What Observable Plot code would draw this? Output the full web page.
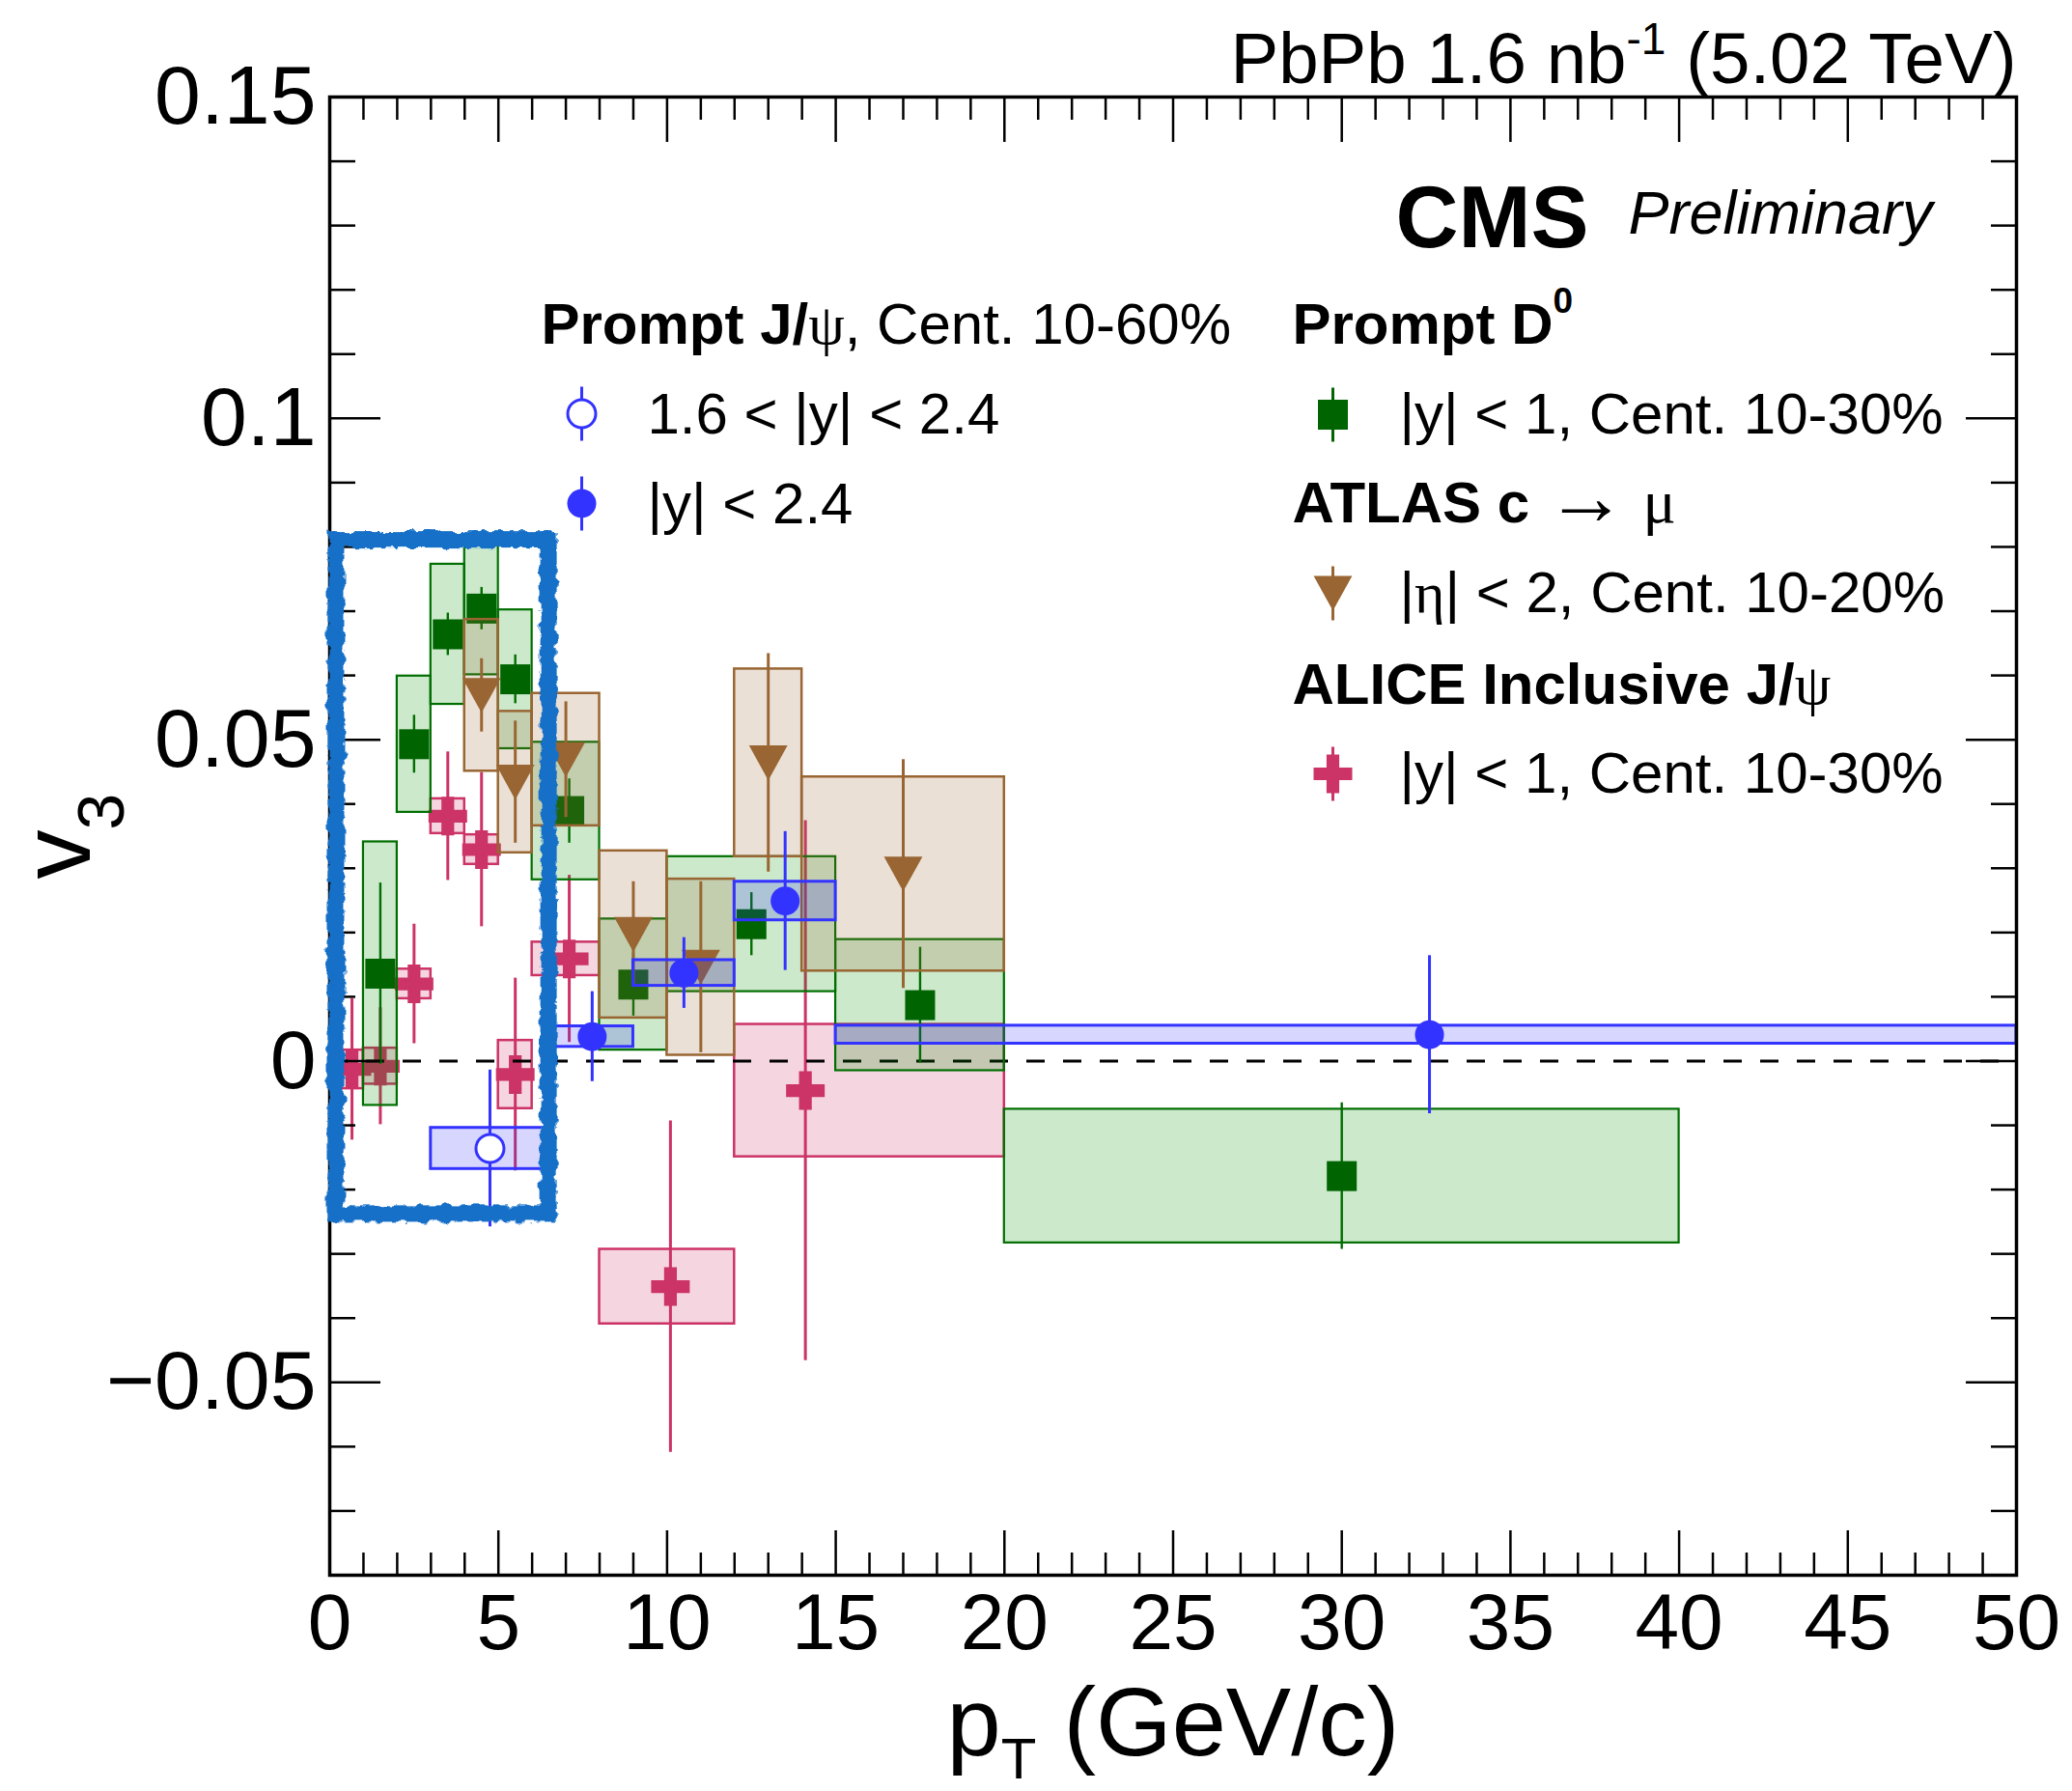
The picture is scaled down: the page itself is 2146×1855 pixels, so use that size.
<!DOCTYPE html>
<html>
<head>
<meta charset="utf-8">
<script src="https://cdn.jsdelivr.net/npm/d3@7"></script>
<script src="https://cdn.jsdelivr.net/npm/@observablehq/plot@0.6"></script>
<style>
html, body { margin: 0; padding: 0; background: #ffffff; }
#chart svg { display: block; }
</style>
</head>
<body>
<div id="chart"></div>
<script>
// ---------------- data ----------------
// CMS prompt D0, |y| < 1, Cent. 10-30%
const d0Lo   = [1, 2, 3, 4, 5, 6, 8, 10, 15, 20];
const d0Hi   = [2, 3, 4, 5, 6, 8, 10, 15, 20, 40];
const d0Pt   = [1.5, 2.5, 3.5, 4.5, 5.5, 7.1, 9.0, 12.5, 17.5, 30.0];
const d0V3   = [0.0136, 0.0493, 0.0664, 0.0704, 0.0594, 0.0389, 0.0119, 0.0213, 0.0087, -0.0179];
const d0Stat = [0.0141, 0.0045, 0.0033, 0.0033, 0.0038, 0.0050, 0.0049, 0.0049, 0.0090, 0.0114];
const d0Sys  = [0.0205, 0.0106, 0.0109, 0.0103, 0.0108, 0.0107, 0.0102, 0.0105, 0.0102, 0.0104];

// ATLAS c -> mu, |eta| < 2, Cent. 10-20%
const atlasLo   = [4, 5, 6, 8, 10, 12, 14];
const atlasHi   = [5, 6, 8, 10, 12, 14, 20];
const atlasPt   = [4.5, 5.5, 7.0, 9.0, 11.0, 13.0, 17.0];
const atlasV3   = [0.0569, 0.0434, 0.0469, 0.0197, 0.0146, 0.0464, 0.0291];
const atlasStat = [0.0057, 0.0095, 0.0090, 0.0082, 0.0133, 0.0170, 0.0178];
const atlasSys  = [0.0118, 0.0110, 0.0103, 0.0130, 0.0137, 0.0146, 0.0151];

// ALICE inclusive J/psi, |y| < 1, Cent. 10-30%
const aliceLo   = [0, 1, 2, 3, 4, 5, 6, 8, 12];
const aliceHi   = [1, 2, 3, 4, 5, 6, 8, 12, 20];
const alicePt   = [0.66, 1.5, 2.5, 3.5, 4.5, 5.5, 7.1, 10.1, 14.1];
const aliceV3   = [-0.0013, -0.0008, 0.0120, 0.0381, 0.0329, -0.0021, 0.0159, -0.0351, -0.0046];
const aliceStat = [0.0110, 0.0091, 0.0093, 0.0100, 0.0120, 0.0150, 0.0130, 0.0258, 0.0420];
const aliceSys  = [0.0030, 0.0028, 0.0023, 0.0027, 0.0023, 0.0053, 0.0026, 0.0058, 0.0103];

// CMS prompt J/psi, |y| < 2.4, Cent. 10-60%
const jpsiLo   = [6.5, 9, 12, 15];
const jpsiHi   = [9, 12, 15, 50];
const jpsiPt   = [7.78, 10.5, 13.5, 32.6];
const jpsiV3   = [0.0038, 0.0137, 0.0249, 0.0041];
const jpsiStat = [0.0070, 0.0055, 0.0108, 0.0123];
const jpsiSys  = [0.0016, 0.0020, 0.0030, 0.0014];

// CMS prompt J/psi, 1.6 < |y| < 2.4, Cent. 10-60%
const fwdLo   = [3];
const fwdHi   = [6.5];
const fwdPt   = [4.75];
const fwdV3   = [-0.0136];
const fwdStat = [0.0122];
const fwdSys  = [0.0032];

// hand-drawn highlight box (data coordinates)
const highlightBox = [{x1: 0.2, x2: 6.5, y1: -0.0238, y2: 0.0811}];

// axis ticks
const xDomain = [0, 50];
const yDomain = [-0.08, 0.15];
const xMajor = [0, 5, 10, 15, 20, 25, 30, 35, 40, 45, 50];
const xMinor = [1,2,3,4,6,7,8,9,11,12,13,14,16,17,18,19,21,22,23,24,26,27,28,29,31,32,33,34,36,37,38,39,41,42,43,44,46,47,48,49];
const yMajor = [-0.05, 0, 0.05, 0.1, 0.15];
const yMinor = [-0.07,-0.06,-0.04,-0.03,-0.02,-0.01,0.01,0.02,0.03,0.04,0.06,0.07,0.08,0.09,0.11,0.12,0.13,0.14];

// ---------------- layout / style ----------------
const W = 2146, H = 1855;
const mL = 341, mR = 58, mT = 100, mB = 224;
const FONT = "Liberation Sans, Arial, Helvetica, sans-serif";
const GREEK = "Liberation Serif, Times New Roman, serif";
const LEG = 60; // legend font size

const cGreen = "#006400", cGreenBox = "#008f00", cGreenLine = "#006e00";
const cBrown = "#996633";
const cPink  = "#cc3366";
const cBlue  = "#3333ff";
const cScribble = "#1570c8";

// custom marker shapes (ROOT-like)
const rOf = (size) => Math.sqrt(size / Math.PI);
const symSquare = {draw(c, s) { const r = rOf(s); c.moveTo(-r, -r); c.lineTo(r, -r); c.lineTo(r, r); c.lineTo(-r, r); c.closePath(); }};
const symTriDown = {draw(c, s) { const r = rOf(s); const w = r * 1.05, h = r * 0.95; c.moveTo(-w, -h); c.lineTo(w, -h); c.lineTo(0, h); c.closePath(); }};
const symCross = {draw(c, s) {
  const r = rOf(s), t = r * 0.33;
  c.moveTo(-t, -r); c.lineTo(t, -r); c.lineTo(t, -t); c.lineTo(r, -t); c.lineTo(r, t); c.lineTo(t, t);
  c.lineTo(t, r); c.lineTo(-t, r); c.lineTo(-t, t); c.lineTo(-r, t); c.lineTo(-r, -t); c.lineTo(-t, -t); c.closePath();
}};
const symCircle = {draw(c, s) { const r = rOf(s); c.moveTo(r, 0); c.arc(0, 0, r, 0, 2 * Math.PI); c.closePath(); }};
const symVBar = {draw(c, s) { const r = rOf(s); c.moveTo(0, -r); c.lineTo(0, r); }};

function rows(lo, hi, pt, v, stat, sys) {
  return pt.map((p, i) => ({lo: lo[i], hi: hi[i], pt: p, v: v[i], stat: stat[i], sys: sys[i]}));
}

function series(data, o) {
  return [
    Plot.rect(data, {x1: "lo", x2: "hi", y1: d => d.v - d.sys, y2: d => d.v + d.sys,
      fill: o.boxFill, fillOpacity: 0.2, stroke: o.boxStroke, strokeWidth: o.boxWidth}),
    Plot.ruleX(data, {x: "pt", y1: d => d.v - d.stat, y2: d => d.v + d.stat, stroke: o.color, strokeWidth: o.barWidth}),
    Plot.dot(data, {x: "pt", y: "v", symbol: o.symbol, r: o.r, fill: o.markerFill, stroke: o.markerStroke || "none", strokeWidth: o.markerStrokeWidth || 0})
  ];
}

// text placed relative to the frame's top-left corner (absolute page px -> offsets)
function label(str, x, baseline, opts = {}) {
  return Plot.text([str], {text: d => d, frameAnchor: "top-left", dx: x - mL, dy: baseline - mT,
    lineAnchor: "bottom", textAnchor: "start", fill: "black", fontSize: LEG, ...opts});
}
function legendMarker(x, y, symbol, r, fill, stroke, strokeWidth) {
  return [
    Plot.dot([0], {frameAnchor: "top-left", dx: x - mL, dy: y - mT, symbol: symVBar, r: 28, stroke: stroke === "none" ? fill : stroke, strokeWidth: 3, fill: "none"}),
    Plot.dot([0], {frameAnchor: "top-left", dx: x - mL, dy: y - mT, symbol, r, fill, stroke, strokeWidth})
  ];
}

const fmtY = d => d < 0 ? "\u2212" + String(-d) : String(d);

const alice = rows(aliceLo, aliceHi, alicePt, aliceV3, aliceStat, aliceSys);
const d0    = rows(d0Lo, d0Hi, d0Pt, d0V3, d0Stat, d0Sys);
const atlas = rows(atlasLo, atlasHi, atlasPt, atlasV3, atlasStat, atlasSys);
const fwd   = rows(fwdLo, fwdHi, fwdPt, fwdV3, fwdStat, fwdSys);
const jpsi  = rows(jpsiLo, jpsiHi, jpsiPt, jpsiV3, jpsiStat, jpsiSys);

const svg = Plot.plot({
  width: W, height: H,
  marginLeft: mL, marginRight: mR, marginTop: mT, marginBottom: mB,
  x: {domain: xDomain},
  y: {domain: yDomain},
  style: {background: "white", fontFamily: FONT, fontSize: "86px", color: "black", overflow: "visible"},
  marks: [
    // ALICE inclusive J/psi
    ...series(alice, {color: cPink, boxFill: cPink, boxStroke: cPink, boxWidth: 2.5, barWidth: 3, symbol: symCross, r: 20, markerFill: cPink}),
    // zero line
    Plot.ruleY([0], {stroke: "black", strokeWidth: 3, strokeDasharray: "19,19"}),
    // CMS prompt D0
    ...series(d0, {color: cGreenLine, boxFill: cGreenBox, boxStroke: cGreenLine, boxWidth: 2.2, barWidth: 2.4, symbol: symSquare, r: 15.5, markerFill: cGreen}),
    // ATLAS c->mu
    ...series(atlas, {color: cBrown, boxFill: cBrown, boxStroke: cBrown, boxWidth: 2.5, barWidth: 3, symbol: symTriDown, r: 19, markerFill: cBrown}),
    // CMS prompt J/psi forward (open circle)
    ...series(fwd, {color: cBlue, boxFill: cBlue, boxStroke: cBlue, boxWidth: 3, barWidth: 3, symbol: symCircle, r: 14.5, markerFill: "white", markerStroke: cBlue, markerStrokeWidth: 3}),
    // CMS prompt J/psi |y|<2.4 (filled circle)
    ...series(jpsi, {color: cBlue, boxFill: cBlue, boxStroke: cBlue, boxWidth: 3, barWidth: 3, symbol: symCircle, r: 15, markerFill: cBlue}),

    // inward ticks (ROOT style)
    Plot.axisX(xMajor, {anchor: "bottom", tickSize: -46, fill: "none", strokeWidth: 2.5, label: null}),
    Plot.axisX(xMinor, {anchor: "bottom", tickSize: -23, fill: "none", strokeWidth: 2.5, label: null}),
    Plot.axisX(xMajor, {anchor: "top", tickSize: -46, fill: "none", strokeWidth: 2.5, label: null}),
    Plot.axisX(xMinor, {anchor: "top", tickSize: -23, fill: "none", strokeWidth: 2.5, label: null}),
    Plot.axisY(yMajor, {anchor: "left", tickSize: -53, fill: "none", strokeWidth: 2.5, label: null}),
    Plot.axisY(yMinor, {anchor: "left", tickSize: -27, fill: "none", strokeWidth: 2.5, label: null}),
    Plot.axisY(yMajor, {anchor: "right", tickSize: -53, fill: "none", strokeWidth: 2.5, label: null}),
    Plot.axisY(yMinor, {anchor: "right", tickSize: -27, fill: "none", strokeWidth: 2.5, label: null}),
    // tick labels
    Plot.axisX(xMajor, {anchor: "bottom", tickSize: 0, tickPadding: 18, fontSize: 82, label: null, tickFormat: d => String(d)}),
    Plot.axisY(yMajor, {anchor: "left", tickSize: 0, tickPadding: 14, fontSize: 86, label: null, tickFormat: fmtY}),
    Plot.frame({stroke: "black", strokeWidth: 3.5}),

    // hand-drawn highlight
    Plot.rect(highlightBox, {x1: "x1", x2: "x2", y1: "y1", y2: "y2", fill: "none", stroke: cScribble, strokeWidth: 17}),
    Plot.rect(highlightBox, {x1: "x1", x2: "x2", y1: "y1", y2: "y2", fill: "none", stroke: cScribble, strokeWidth: 9}),

    // axis titles
    Plot.text(["pT (GeV/c)"], {text: d => d, frameAnchor: "bottom", dy: 1817 - (H - mB), lineAnchor: "bottom", textAnchor: "middle", fontSize: 101, fill: "black"}),
    Plot.text(["v3"], {text: d => d, frameAnchor: "left", dx: 92 - mL, rotate: -90, lineAnchor: "bottom", textAnchor: "middle", fontSize: 102, fill: "black"}),

    // header texts
    Plot.text(["PbPb 1.6 nb-1 (5.02 TeV)"], {text: d => d, frameAnchor: "top-right", dy: 85 - mT, lineAnchor: "bottom", textAnchor: "end", fontSize: 74.5, fill: "black"}),
    label("CMS", 1445, 255, {fontSize: 90, fontWeight: "bold"}),
    label("Preliminary", 1686, 241, {fontSize: 63, fontStyle: "italic"}),

    // legend: left column
    label("Prompt J/ψ, Cent. 10-60%", 560, 355),
    ...legendMarker(602, 428, symCircle, 14.5, "white", cBlue, 3),
    label("1.6 < |y| < 2.4", 670, 448),
    ...legendMarker(602, 521, symCircle, 15, cBlue, "none", 0),
    label("|y| < 2.4", 670, 541),

    // legend: right column
    label("Prompt D0", 1338, 355),
    ...legendMarker(1380, 429, symSquare, 15.5, cGreen, "none", 0),
    label("|y| < 1, Cent. 10-30%", 1449, 448),
    label("ATLAS c → μ", 1338, 540),
    ...legendMarker(1380, 614, symTriDown, 19, cBrown, "none", 0),
    label("|η| < 2, Cent. 10-20%", 1449, 633),
    label("ALICE Inclusive J/ψ", 1338, 728),
    ...legendMarker(1380, 801, symCross, 20, cPink, "none", 0),
    label("|y| < 1, Cent. 10-30%", 1449, 820)
  ]
});

// rich text (bold parts, Greek letters, sub/superscripts), matched by text content
const G = 'font-family="' + GREEK + '"';
const rich = {
  "pT (GeV/c)": 'p<tspan font-size="60" dy="24">T</tspan><tspan dy="-24"> (GeV/c)</tspan>',
  "v3": 'v<tspan font-size="68" dy="35">3</tspan>',
  "PbPb 1.6 nb-1 (5.02 TeV)": 'PbPb 1.6 nb<tspan font-size="46" dy="-30">-1</tspan><tspan dy="30"> (5.02 TeV)</tspan>',
  "Prompt J/ψ, Cent. 10-60%": '<tspan font-weight="bold">Prompt J/</tspan><tspan ' + G + '>ψ</tspan>, Cent. 10-60%',
  "Prompt D0": '<tspan font-weight="bold">Prompt D</tspan><tspan font-weight="bold" font-size="37" dy="-32">0</tspan>',
  "ATLAS c → μ": '<tspan font-weight="bold">ATLAS c</tspan> <tspan ' + G + ' font-size="84" dy="2">→</tspan><tspan dy="-2"> </tspan><tspan ' + G + ' font-size="64">μ</tspan>',
  "ALICE Inclusive J/ψ": '<tspan font-weight="bold">ALICE Inclusive J/</tspan><tspan ' + G + '>ψ</tspan>',
  "|η| < 2, Cent. 10-20%": '|<tspan ' + G + '>η</tspan>| &lt; 2, Cent. 10-20%'
};
svg.querySelectorAll("text").forEach(t => {
  const k = t.textContent;
  if (Object.prototype.hasOwnProperty.call(rich, k)) t.innerHTML = rich[k];
});

// rough, hand-drawn look for the highlight box
const ns = "http://www.w3.org/2000/svg";
const defs = document.createElementNS(ns, "defs");
defs.innerHTML =
  '<filter id="roughA" filterUnits="userSpaceOnUse" x="0" y="0" width="' + W + '" height="' + H + '">' +
  '<feTurbulence type="fractalNoise" baseFrequency="0.09" numOctaves="2" seed="4" result="n"/>' +
  '<feDisplacementMap in="SourceGraphic" in2="n" scale="10" xChannelSelector="R" yChannelSelector="G"/></filter>' +
  '<filter id="roughB" filterUnits="userSpaceOnUse" x="0" y="0" width="' + W + '" height="' + H + '">' +
  '<feTurbulence type="fractalNoise" baseFrequency="0.2" numOctaves="3" seed="11" result="n"/>' +
  '<feDisplacementMap in="SourceGraphic" in2="n" scale="16" xChannelSelector="G" yChannelSelector="R"/></filter>';
svg.insertBefore(defs, svg.firstChild);
svg.querySelectorAll("g").forEach(g => {
  if (g.getAttribute("stroke") !== cScribble) return;
  const sw = g.getAttribute("stroke-width");
  g.setAttribute("filter", sw === "17" ? "url(#roughA)" : "url(#roughB)");
});

document.getElementById("chart").appendChild(svg);
</script>
</body>
</html>
